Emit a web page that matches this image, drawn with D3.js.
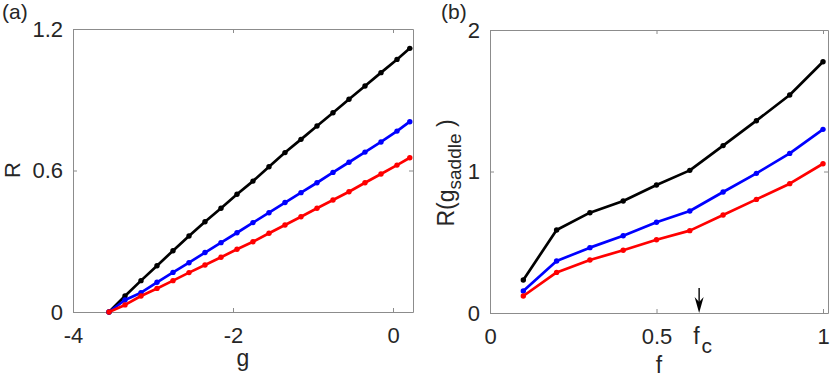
<!DOCTYPE html>
<meta charset="utf-8">
<style>
  body { margin: 0; background: white; }
  text { font-family: "Liberation Sans", Arial, sans-serif; fill: #262626; }
  .frame line, .frame path { stroke: #8c8c8c; }
  .line { fill: none; stroke-width: 2.7px; stroke-linejoin: round; }
</style>
<body>
<script src="https://d3js.org/d3.v7.min.js"></script>
<script>

// panel (a): R versus g
var gValues = [-3.55, -3.35, -3.15, -2.95, -2.75, -2.55, -2.35, -2.15, -1.95, -1.75,
               -1.55, -1.35, -1.15, -0.95, -0.75, -0.55, -0.35, -0.15, 0.05, 0.21];
var rBlackA = [0, 0.068, 0.133, 0.196, 0.260, 0.322, 0.383, 0.440, 0.499, 0.555,
               0.616, 0.676, 0.732, 0.789, 0.845, 0.902, 0.958, 1.015, 1.071, 1.118];
var rBlueA  = [0, 0.051, 0.082, 0.126, 0.168, 0.209, 0.252, 0.294, 0.336, 0.379,
               0.421, 0.464, 0.506, 0.548, 0.592, 0.635, 0.678, 0.721, 0.767, 0.807];
var rRedA   = [0, 0.030, 0.068, 0.100, 0.133, 0.167, 0.199, 0.232, 0.266, 0.298,
               0.334, 0.369, 0.404, 0.440, 0.475, 0.510, 0.548, 0.585, 0.623, 0.654];
var gTicks = [-4, -2, 0];
var rTicksA = [0, 0.6, 1.2];

// panel (b): R(g_saddle) versus f
var fValues = [0.1, 0.2, 0.3, 0.4, 0.5, 0.6, 0.7, 0.8, 0.9, 1.0];
var rBlackB = [0.233, 0.587, 0.709, 0.791, 0.905, 1.008, 1.183, 1.359, 1.541, 1.776];
var rBlueB  = [0.155, 0.367, 0.462, 0.546, 0.641, 0.721, 0.855, 0.987, 1.128, 1.298];
var rRedB   = [0.120, 0.287, 0.375, 0.443, 0.518, 0.582, 0.693, 0.803, 0.914, 1.055];
var fTicks = [0, 0.5, 1];
var rTicksB = [0, 1, 2];
var fCritical = 0.628;

var colors = ["#000000", "#0000ff", "#ff0000"];

var svg = d3.select("body").append("svg")
    .attr("width", 830)
    .attr("height", 380);

// plain hyphen minus like the original figure
var plain = function(d) { return String(d); };

function drawPanel(p) {
  var x = d3.scaleLinear().domain(p.xDomain).range([p.left, p.right]);
  var y = d3.scaleLinear().domain(p.yDomain).range([p.bottom, p.top]);
  var g = svg.append("g");

  // box with inward ticks on all four sides
  g.append("g").attr("class", "frame")
      .attr("transform", "translate(0," + p.bottom + ")")
      .call(d3.axisBottom(x).tickValues(p.xTicks).tickSize(-4).tickSizeOuter(0).tickPadding(15).tickFormat(plain))
      .call(function(a) { a.selectAll("text").style("font-size", "22px").attr("fill", "#262626"); });
  g.append("g").attr("class", "frame")
      .attr("transform", "translate(0," + p.top + ")")
      .call(d3.axisTop(x).tickValues(p.xTicks).tickSize(-4).tickSizeOuter(0).tickFormat(""));
  g.append("g").attr("class", "frame")
      .attr("transform", "translate(" + p.left + ",0)")
      .call(d3.axisLeft(y).tickValues(p.yTicks).tickSize(-4).tickSizeOuter(0).tickPadding(10).tickFormat(plain))
      .call(function(a) { a.selectAll("text").style("font-size", "22px").attr("fill", "#262626"); });
  g.append("g").attr("class", "frame")
      .attr("transform", "translate(" + p.right + ",0)")
      .call(d3.axisRight(y).tickValues(p.yTicks).tickSize(-4).tickSizeOuter(0).tickFormat(""));

  var line = d3.line()
    .x(function(d) { return x(d[0]); })
    .y(function(d) { return y(d[1]); });

  p.series.forEach(function(s, i) {
    var pts = p.xs.map(function(v, j) { return [v, s[j]]; });
    g.append("path").datum(pts)
      .attr("class", "line")
      .attr("stroke", colors[i])
      .attr("d", line);
    g.selectAll(null).data(pts).enter().append("circle")
      .attr("cx", function(d) { return x(d[0]); })
      .attr("cy", function(d) { return y(d[1]); })
      .attr("r", 2.7)
      .attr("fill", colors[i]);
  });

  return {x: x, y: y, g: g};
}

// (a)
var a = drawPanel({
  left: 73, right: 413, top: 29, bottom: 312,
  xDomain: [-4, 0.25], yDomain: [0, 1.2],
  xTicks: gTicks, yTicks: rTicksA,
  xs: gValues, series: [rBlackA, rBlueA, rRedA]
});
svg.append("text").attr("x", 2).attr("y", 19).style("font-size", "21px").text("(a)");
svg.append("text").attr("x", 243).attr("y", 366).attr("text-anchor", "middle")
  .style("font-size", "23px").text("g");
svg.append("text").attr("transform", "translate(20,170) rotate(-90)")
  .attr("text-anchor", "middle").style("font-size", "22px").text("R");

// (b)
var b = drawPanel({
  left: 490, right: 828, top: 30, bottom: 313,
  xDomain: [0, 1.015], yDomain: [0, 2],
  xTicks: fTicks, yTicks: rTicksB,
  xs: fValues, series: [rBlackB, rBlueB, rRedB]
});
svg.append("text").attr("x", 441).attr("y", 19).style("font-size", "21px").text("(b)");
svg.append("text").attr("x", 659).attr("y", 373).attr("text-anchor", "middle")
  .style("font-size", "23px").text("f");

var ylab = svg.append("text").attr("transform", "translate(454,173) rotate(-90)")
  .attr("text-anchor", "middle").style("font-size", "23px");
ylab.append("tspan").text("R(g");
ylab.append("tspan").attr("dy", 7).style("font-size", "19px").text("saddle");
ylab.append("tspan").attr("dy", -7).text(" )");

// f_c marker: arrow down to the axis and its label
var xc = b.x(fCritical);
svg.append("line")
  .attr("x1", xc).attr("x2", xc)
  .attr("y1", 288).attr("y2", 304)
  .attr("stroke", "#000").attr("stroke-width", 1.4);
svg.append("path")
  .attr("d", "M" + (xc - 4.5) + ",297 L" + xc + ",313 L" + (xc + 4.5) + ",297 L" + xc + ",302 Z")
  .attr("fill", "#000");
var fc = svg.append("text").attr("x", xc - 6).attr("y", 344).style("font-size", "23px");
fc.append("tspan").text("f");
fc.append("tspan").attr("dx", 2).attr("dy", 9).style("font-size", "21px").text("c");

</script>
</body>
